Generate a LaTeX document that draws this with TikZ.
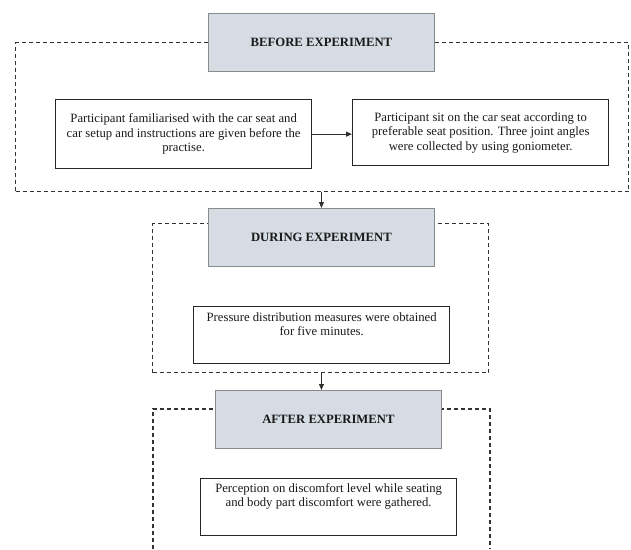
\documentclass[tikz,border=0pt]{standalone}
\usepackage{fontspec}
\setmainfont{Liberation Serif}
\usetikzlibrary{arrows.meta,positioning}
\definecolor{hdrfill}{HTML}{D6DCE4}
\definecolor{hdrline}{HTML}{8A8A8A}
\definecolor{boxline}{HTML}{262626}
\definecolor{dashcol}{HTML}{333333}
\definecolor{textcol}{HTML}{1A1A1A}
\definecolor{arrcol}{HTML}{303030}
\begin{document}
\begin{tikzpicture}[x=1pt,y=-1pt,
 hdr/.style={draw=hdrline, fill=hdrfill, line width=0.9pt, minimum width=226pt, minimum height=58pt, inner sep=0pt, anchor=north west, text=textcol, font=\fontsize{12.7}{14.4}\selectfont\bfseries},
 stepbox/.style={draw=boxline, line width=1.3pt, fill=white, inner sep=0pt, anchor=north west, minimum width=256pt, align=center, text=textcol, font=\fontsize{12.7}{14.4}\selectfont},
 txt/.style={align=center, font=\fontsize{12.7}{14.4}\selectfont, inner sep=0pt, text=textcol, anchor=north},
 grp/.style={draw=dashcol, line width=1.3pt, dash pattern=on 4pt off 3pt, inner sep=0pt, anchor=north west},
 arr/.style={draw=arrcol, line width=1pt, -{Triangle[length=6pt,width=5pt]}}
]
\useasboundingbox (0,0) rectangle (631,549);
% group frames
\node[grp, minimum width=613pt, minimum height=149pt] (g1) at (15,42) {};
\node[grp, minimum width=336pt, minimum height=149pt] (g2) at (152,223) {};
\coordinate (g3bl) at (153,549);
\coordinate (g3tl) at (153,409);
\coordinate (g3tr) at (490,409);
\coordinate (g3br) at (490,549);
\draw[grp] (g3bl) -- (g3tl) -- (g3tr) -- (g3br);
% headers
\node[hdr] (bef) at (208,13) {BEFORE EXPERIMENT};
\node[hdr] (dur) at (208,208) {DURING EXPERIMENT};
\node[hdr] (aft) at (215,390) {AFTER EXPERIMENT};
% boxes
\node[stepbox, minimum height=69pt] (lbox) at (55,99) {Participant familiarised with the car seat and\\car setup and instructions are given before the\\practise.};
\node[stepbox, minimum height=66pt] (rbox) at (352,99) {Participant sit on the car seat according to\\preferable seat position. Three joint angles\\were collected by using goniometer.};
\node[stepbox, minimum height=57pt] (pbox) at (193,306) {};
\node[txt, below=6pt of pbox.north] (ptxt) {Pressure distribution measures were obtained\\for five minutes.};
\node[stepbox, minimum height=57pt] (qbox) at (200,478) {};
\node[txt, below=5pt of qbox.north] (qtxt) {Perception on discomfort level while seating\\and body part discomfort were gathered.};
% connectors
\draw[arr] (lbox.east) -- (lbox.east -| rbox.west);
\draw[arr] (dur.north |- g1.south) -- (dur.north);
\draw[arr] (dur.north |- g2.south) -- (dur.north |- aft.north);
\end{tikzpicture}
\end{document}
